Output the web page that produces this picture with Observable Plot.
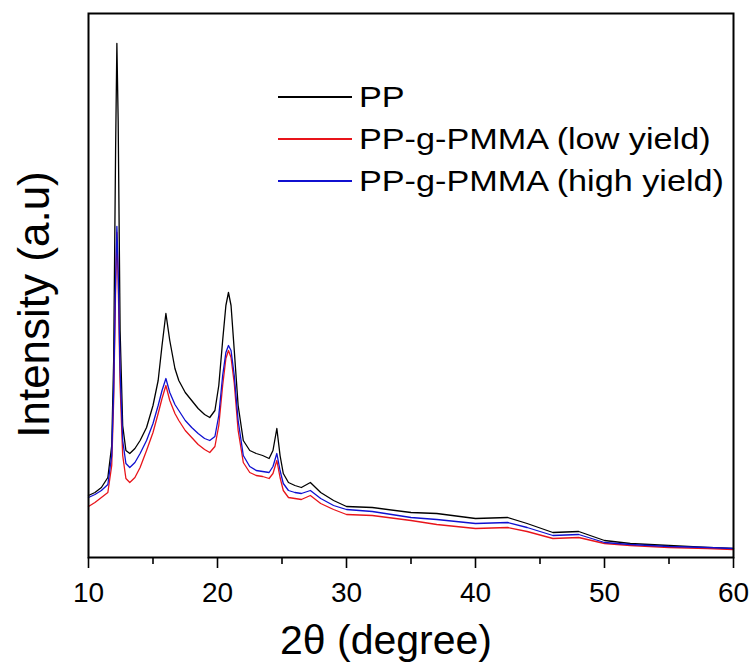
<!DOCTYPE html>
<html>
<head>
<meta charset="utf-8">
<script src="https://cdn.jsdelivr.net/npm/d3@7"></script>
<script src="https://cdn.jsdelivr.net/npm/@observablehq/plot@0.6"></script>
<style>
  html, body { margin: 0; padding: 0; background: #fff; }
  #wrap { position: relative; width: 753px; height: 663px; font-family: Arial, "Liberation Sans", sans-serif; }
  #legend { position: absolute; left: 278px; top: 76px; }
  .row { display: flex; align-items: center; height: 42px; }
  .swatch { width: 74px; height: 1.3px; }
  .lbl { margin-left: 7px; font-size: 30px; color: #000; white-space: nowrap; transform: scaleX(1.14); transform-origin: left center; }
</style>
</head>
<body>
<div id="wrap"><div id="chart"></div><div id="legend"></div></div>
<script>
// 2θ positions (degree)
const theta = [10.0,10.5,11.0,11.5,11.8,11.95,12.1,12.2,12.3,12.45,12.65,12.9,13.2,13.6,14.0,14.5,15.0,15.4,15.7,16.0,16.3,16.7,17.0,17.5,18.0,18.5,19.0,19.4,19.8,20.1,20.4,20.65,20.85,21.05,21.3,21.6,22.0,22.5,23.0,23.5,24.0,24.3,24.6,24.85,25.1,25.5,26.0,26.5,27.2,28.0,29.0,30.0,32.0,35.0,37.0,40.0,42.5,44.0,46.0,48.0,50.0,52.0,55.0,58.0,60.0];
// Intensities (a.u.)
const ppValues = [62,65,70,80,112,197,407,514,437,227,132,107,104,109,117,130,152,177,212,244,217,189,177,165,157,149,143,140,147,172,217,252,265,252,207,152,117,107,104,102,99,107,129,102,84,75,72,70,75,65,57,51,50,45,44,39,40,34,25,26,17,14,12,10,9];
const lowYieldValues = [51,55,60,65,92,157,267,325,277,172,102,79,75,80,90,107,125,144,159,172,157,144,137,127,120,113,108,105,111,132,172,199,207,200,174,127,95,85,82,81,79,84,97,80,67,60,59,58,62,54,48,43,42,37,33,29,30,26,19,20,14,12,10,9,8];
const highYieldValues = [60,63,67,73,102,167,277,331,287,187,117,94,90,95,104,117,134,152,167,179,165,153,147,137,130,124,119,117,121,142,182,205,212,207,182,137,102,91,87,86,85,91,104,87,74,67,65,64,67,59,52,48,46,40,38,34,35,30,22,23,15,13,11,10,9];

const seriesNames = ["PP", "PP-g-PMMA (low yield)", "PP-g-PMMA (high yield)"];
const seriesColors = ["#000000", "#e8141a", "#1010d0"];
const seriesValues = [ppValues, lowYieldValues, highYieldValues];

const majorTicks = [10, 20, 30, 40, 50, 60];
const minorTicks = [15, 25, 35, 45, 55];
const xTitle = "2\u03b8 (degree)";
const yTitle = "Intensity (a.u)";

const rows = [];
seriesNames.forEach((name, s) => {
  theta.forEach((t, i) => rows.push({series: name, theta: t, intensity: seriesValues[s][i]}));
});

const chart = Plot.plot({
  width: 753,
  height: 663,
  marginLeft: 88,
  marginRight: 20,
  marginTop: 13,
  marginBottom: 106,
  style: {fontFamily: 'Arial, "Liberation Sans", sans-serif', background: "#fff", color: "#000"},
  x: {domain: [10, 60]},
  y: {domain: [0, 544], axis: null},
  color: {domain: seriesNames, range: seriesColors},
  marks: [
    Plot.line(rows, {x: "theta", y: "intensity", z: "series", stroke: "series", strokeWidth: 1.3}),
    Plot.axisX(majorTicks, {tickSize: 11, tickPadding: 14, fontSize: 28, strokeWidth: 1.6, label: null, tickFormat: d => String(d)}),
    Plot.axisX(minorTicks, {tickSize: 7, strokeWidth: 1.6, label: null, tickFormat: () => ""}),
    Plot.frame({stroke: "#000", strokeWidth: 2}),
    Plot.text([xTitle], {frameAnchor: "bottom", lineAnchor: "bottom", textAnchor: "middle", dx: -25, dy: 96, fontSize: 41, fill: "#000"}),
    Plot.text([yTitle], {frameAnchor: "left", textAnchor: "middle", rotate: -90, dx: -54, dy: 19, fontSize: 44, fill: "#000"})
  ]
});
document.getElementById("chart").appendChild(chart);

const legend = document.getElementById("legend");
seriesNames.forEach((name, i) => {
  const row = document.createElement("div");
  row.className = "row";
  const sw = document.createElement("span");
  sw.className = "swatch";
  sw.style.background = seriesColors[i];
  const lb = document.createElement("span");
  lb.className = "lbl";
  lb.textContent = name;
  row.appendChild(sw);
  row.appendChild(lb);
  legend.appendChild(row);
});
</script>
</body>
</html>
